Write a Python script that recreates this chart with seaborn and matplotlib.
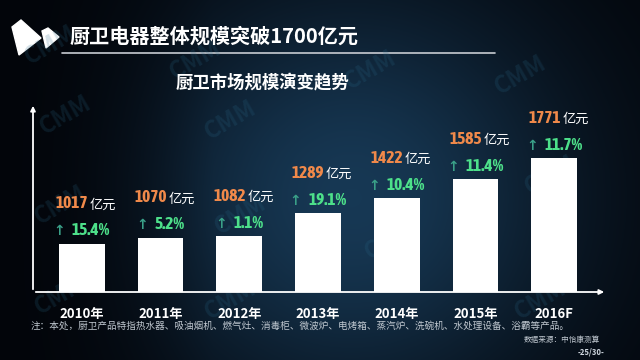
import numpy as np
import pandas as pd
import matplotlib
matplotlib.use("Agg")
import matplotlib.pyplot as plt
import seaborn as sns
from matplotlib import font_manager
from matplotlib.patches import Polygon
from matplotlib.offsetbox import TextArea, HPacker, AnnotationBbox

# data
years = ['2010年', '2011年', '2012年', '2013年', '2014年', '2015年', '2016F']
sizes = [1017, 1070, 1082, 1289, 1422, 1585, 1771]
growth = ['15.4%', '5.2%', '1.1%', '19.1%', '10.4%', '11.4%', '11.7%']

title = '厨卫电器整体规模突破1700亿元'
subtitle = '厨卫市场规模演变趋势'
note = '注：本处，厨卫产品特指热水器、吸油烟机、燃气灶、消毒柜、微波炉、电烤箱、蒸汽炉、洗碗机、水处理设备、浴霸等产品。'
source = '数据来源：中怡康测算'
page = '-25/30-'

sns.set_style('white')
plt.rcParams['font.family'] = ['Noto Sans CJK SC', 'DejaVu Sans']

# look for a narrow bold face for the numbers
narrow = None
for f in font_manager.fontManager.ttflist:
    if ('Narrow' in f.name or 'Condensed' in f.name) and f.weight in ('bold', 700):
        narrow = f.fname
        break
if narrow is None:
    for f in font_manager.fontManager.ttflist:
        if 'Narrow' in f.name or 'Condensed' in f.name:
            narrow = f.fname
            break

W, H = 640, 360
fig = plt.figure(figsize=(6.4, 3.6), dpi=100)

# background gradient
bg = fig.add_axes([0, 0, 1, 1])
xx = np.linspace(0, 1, 400)
yy = np.linspace(0, 1, 225)
X, Y = np.meshgrid(xx, yy)
glow = np.exp(-((X - 0.55) ** 2) / 0.12 - ((Y - 0.55) ** 2) / 0.35)
glow = glow * np.clip(X * 3.0, 0, 1)
dark = np.array([0.01, 0.02, 0.04])
light = np.array([0.09, 0.22, 0.33])
img = dark + glow[..., None] * (light - dark)
bg.imshow(img, extent=[0, 1, 0, 1], aspect='auto', origin='upper')
bg.set_xlim(0, 1)
bg.set_ylim(0, 1)
bg.axis('off')

# watermarks
for wx, wy in [(50, 45), (195, 60), (370, 70), (520, 75), (65, 115), (230, 120),
               (60, 205), (240, 215), (390, 240), (550, 175), (60, 295), (230, 300), (540, 300)]:
    bg.text(wx / W, 1 - wy / H, 'CMM', fontsize=17, fontweight='bold', color='#2a6a8a',
            alpha=0.2, rotation=30, ha='center', va='center')

# logo
bg.add_patch(Polygon([(12 / W, 1 - 27 / H), (21 / W, 1 - 20 / H), (41 / W, 1 - 38 / H), (19 / W, 1 - 55 / H)],
                     closed=True, color='white'))
bg.add_patch(Polygon([(42 / W, 1 - 31 / H), (48 / W, 1 - 28 / H), (59 / W, 1 - 37 / H), (46 / W, 1 - 48 / H)],
                     closed=True, color='white'))

# title and line
fig.text(69 / W, 1 - 36 / H, title, fontsize=14.5, fontweight='bold', color='white', va='center')
bg.plot([62 / W, 495 / W], [1 - 53 / H, 1 - 53 / H], color='#c8ccd2', lw=1.2)
fig.text(262 / W, 1 - 82 / H, subtitle, fontsize=12.5, fontweight='bold', color='white',
         va='center', ha='center')

# chart
ax = fig.add_axes([33 / W, 1 - 292 / H, 574 / W, 189 / H])
ax.patch.set_alpha(0)
df = pd.DataFrame({'year': years, 'size': sizes})
sns.barplot(data=df, x='year', y='size', color='white', width=0.58, ax=ax,
            saturation=1, edgecolor='none')
ax.set_xlim(-0.62, 6.67)
ax.set_ylim(589, 2260)
ax.set_xlabel('')
ax.set_ylabel('')
ax.set_yticks([])
for s in ['top', 'right', 'left', 'bottom']:
    ax.spines[s].set_visible(False)
ax.tick_params(axis='x', length=0, pad=11, labelsize=9.5, labelcolor='white')
for lab in ax.get_xticklabels():
    lab.set_fontweight('bold')

# axis arrows
ax.annotate('', xy=(0, 1.0), xycoords='axes fraction', xytext=(0, 0), textcoords='axes fraction',
            arrowprops=dict(arrowstyle='-|>', color='white', lw=1.3, mutation_scale=7))
ax.annotate('', xy=(1.0, 0), xycoords='axes fraction', xytext=(0, 0), textcoords='axes fraction',
            arrowprops=dict(arrowstyle='-|>', color='white', lw=1.3, mutation_scale=7))

if narrow:
    num_font = dict(fontproperties=font_manager.FontProperties(fname=narrow, size=12.5, weight='bold'))
else:
    num_font = dict(size=10.5, weight='bold', family=['DejaVu Sans'], stretch='condensed')

for i, (v, g) in enumerate(zip(sizes, growth)):
    top = HPacker(children=[
        TextArea(str(v), textprops=dict(color='#f0894a', **num_font)),
        TextArea('亿元', textprops=dict(color='white', size=9.5, family=['Noto Sans CJK SC']))],
        align='baseline', pad=0, sep=1)
    ab = AnnotationBbox(top, (i, v), xybox=(3, 29), xycoords='data', boxcoords='offset points',
                        frameon=False, box_alignment=(0.5, 0.5))
    ax.add_artist(ab)
    low = HPacker(children=[
        TextArea('↑', textprops=dict(color='#3aa088', size=10, weight='bold', family=['DejaVu Sans'])),
        TextArea(g, textprops=dict(color='#4de08a', **num_font))],
        align='baseline', pad=0, sep=5)
    ab2 = AnnotationBbox(low, (i, v), xybox=(0, 9.5), xycoords='data', boxcoords='offset points',
                         frameon=False, box_alignment=(0.5, 0.5))
    ax.add_artist(ab2)

# footer
fig.text(31 / W, 1 - 326 / H, note, fontsize=6.9, color='#c0c8d0', va='center')
fig.text(600 / W, 1 - 340 / H, source, fontsize=5.5, color='#c0c8d0', va='center', ha='right')
fig.text(605 / W, 1 - 352 / H, page, fontsize=5.5, color='#d0d8e0', va='center', ha='right',
         fontweight='bold')

fig.savefig('out.png', dpi=100, facecolor='black')
